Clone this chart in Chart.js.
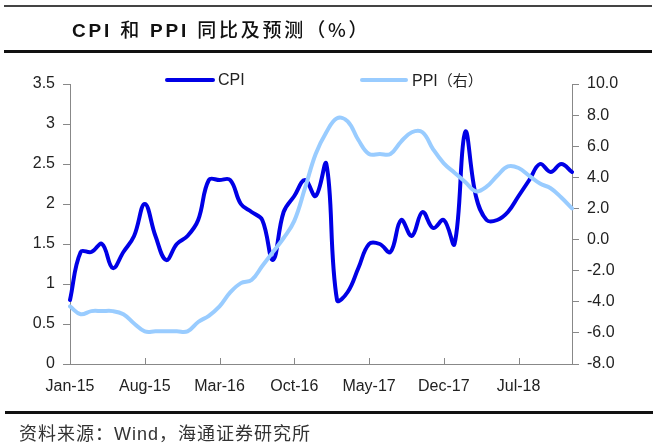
<!DOCTYPE html>
<html>
<head>
<meta charset="utf-8">
<script src="https://cdn.jsdelivr.net/npm/chart.js@4.4.1/dist/chart.umd.min.js"></script>
<style>
  html, body { margin: 0; padding: 0; background: #fff; }
  #wrap { position: relative; width: 659px; height: 445px; overflow: hidden; background: #fff; }
  #c { position: absolute; left: 0; top: 0; }
  .rule { position: absolute; background: #111; }
  #title { position: absolute; left: 72px; top: 17px; font-family: "Liberation Sans", "Noto Sans CJK SC", sans-serif; font-size: 19px; font-weight: bold; color: #111; white-space: nowrap; line-height: 24px; letter-spacing: 2.8px; }
  #title .cjk { font-family: "Noto Sans CJK SC", sans-serif; font-weight: 500; }
  #source { position: absolute; left: 19px; top: 420px; font-family: "Liberation Sans", "Noto Sans CJK SC", sans-serif; font-size: 18px; color: #333; white-space: nowrap; line-height: 24px; letter-spacing: 1px; }
  #source .cjk { font-family: "Noto Sans CJK SC", sans-serif; }
  .leg { position: absolute; font-family: "Liberation Sans", "Noto Sans CJK SC", sans-serif; font-size: 16px; color: #222; white-space: nowrap; line-height: 20px; }
  .legline { position: absolute; height: 4px; border-radius: 2px; }
</style>
</head>
<body>
<div id="wrap">
  <canvas id="c" width="659" height="445"></canvas>
  <div class="rule" style="left:4px; top:5px; width:648px; height:1.5px; background:#444;"></div>
  <div id="title">CPI <span class="cjk">和</span> PPI <span class="cjk">同比及预测（%）</span></div>
  <div class="rule" style="left:4px; top:50px; width:648px; height:2.5px;"></div>
  <div class="legline" style="left:165px; top:78px; width:50px; background:#0000E6;"></div>
  <div class="leg" style="left:218px; top:70px;">CPI</div>
  <div class="legline" style="left:360px; top:78px; width:48px; background:#99CCFF;"></div>
  <div class="leg" style="left:412px; top:70px;">PPI<span style="font-family:'Noto Sans CJK SC'; font-size:15px;">（右）</span></div>
  <div class="rule" style="left:5px; top:411px; width:648px; height:2.5px;"></div>
  <div id="source"><span class="cjk">资料来源：</span>Wind<span class="cjk">，海通证券研究所</span></div>
</div>
<script>
// ---- data ----
const years = ["15", "16", "17", "18"];
const monthNames = ["Jan","Feb","Mar","Apr","May","Jun","Jul","Aug","Sep","Oct","Nov","Dec"];
const categories = [];
years.forEach(y => monthNames.forEach(m => categories.push(m + "-" + y)));

const cpi = [
  0.8, 1.4, 1.4, 1.5, 1.2, 1.4, 1.6, 2.0, 1.6, 1.3, 1.5, 1.6,
  1.8, 2.3, 2.3, 2.3, 2.0, 1.9, 1.8, 1.3, 1.9, 2.1, 2.3, 2.1,
  2.5, 0.8, 0.9, 1.2, 1.5, 1.5, 1.4, 1.8, 1.6, 1.9, 1.7, 1.8,
  1.5, 2.9, 2.1, 1.8, 1.8, 1.9, 2.1, 2.3, 2.5, 2.4, 2.5, 2.4
];
const ppi = [
  -4.3, -4.8, -4.6, -4.6, -4.6, -4.8, -5.4, -5.9, -5.9, -5.9, -5.9, -5.9,
  -5.3, -4.9, -4.3, -3.4, -2.8, -2.6, -1.7, -0.8, 0.1, 1.2, 3.3, 5.5,
  6.9, 7.8, 7.6, 6.4, 5.5, 5.5, 5.5, 6.3, 6.9, 6.9, 5.8, 4.9,
  4.3, 3.7, 3.1, 3.4, 4.1, 4.7, 4.6, 4.1, 3.6, 3.3, 2.7, 2.0
];
const xTickEvery = 7;   // label shown every 7 months: Jan-15, Aug-15, ...

// ---- chart ----
const axisColor = "#888888";
const tickFont = { family: "Liberation Sans, Arial, sans-serif", size: 16 };

const inwardXTicks = {
  id: "inwardXTicks",
  afterDraw(chart) {
    const x = chart.scales.x, ctx = chart.ctx, bottom = chart.chartArea.bottom;
    ctx.save();
    ctx.strokeStyle = axisColor;
    ctx.lineWidth = 1;
    x.ticks.forEach((t, i) => {
      const px = Math.round(x.getPixelForTick(i)) + 0.5;
      ctx.beginPath();
      ctx.moveTo(px, bottom);
      ctx.lineTo(px, bottom - 6);
      ctx.stroke();
    });
    ctx.restore();
  }
};

new Chart(document.getElementById("c"), {
  type: "line",
  data: {
    labels: categories,
    datasets: [
      { label: "PPI（右）", data: ppi, yAxisID: "y1", borderColor: "#99CCFF", borderWidth: 4,
        pointRadius: 0, tension: 0.4, fill: false, order: 0, borderCapStyle: "round", borderJoinStyle: "round" },
      { label: "CPI", data: cpi, yAxisID: "y", borderColor: "#0000E6", borderWidth: 4,
        pointRadius: 0, tension: 0.4, fill: false, order: 1, borderCapStyle: "round", borderJoinStyle: "round" }
    ]
  },
  options: {
    responsive: false,
    devicePixelRatio: 1,
    animation: false,
    layout: { padding: { top: 84, right: 0, bottom: 0, left: 0 } },
    plugins: { legend: { display: false }, title: { display: false }, tooltip: { enabled: false } },
    scales: {
      x: {
        type: "category",
        offset: false,
        grid: { display: false, drawTicks: false },
        border: { display: true, color: axisColor, width: 1 },
        afterBuildTicks(scale) { scale.ticks = scale.ticks.filter(t => t.value % xTickEvery === 0); },
        ticks: { autoSkip: false, maxRotation: 0, minRotation: 0, padding: 13, color: "#222", font: tickFont },
        afterFit(scale) { scale.height = 81; }
      },
      y: {
        position: "left",
        min: 0, max: 3.5,
        ticks: { stepSize: 0.5, padding: 8, color: "#222", font: tickFont, callback: v => String(Math.round(v * 10) / 10) },
        grid: { drawOnChartArea: false, drawTicks: true, tickLength: 7, color: axisColor },
        border: { display: true, color: axisColor, width: 1 },
        afterFit(scale) { scale.width = 70; }
      },
      y1: {
        position: "right",
        min: -8, max: 10,
        ticks: { stepSize: 2, padding: 8, color: "#222", font: tickFont, callback: v => Number(v).toFixed(1) },
        grid: { drawOnChartArea: false, drawTicks: true, tickLength: 7, color: axisColor },
        border: { display: true, color: axisColor, width: 1 },
        afterFit(scale) { scale.width = 87; }
      }
    }
  },
  plugins: [inwardXTicks]
});
</script>
</body>
</html>
